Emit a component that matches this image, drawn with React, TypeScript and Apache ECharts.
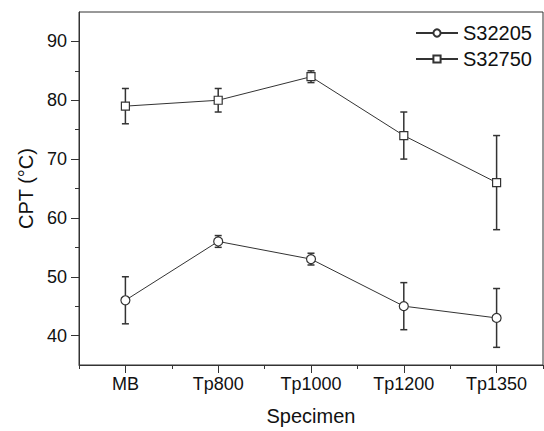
import React, { useEffect, useRef } from "react";
import * as echarts from "echarts";

const categories = ["MB", "Tp800", "Tp1000", "Tp1200", "Tp1350"];
const s32205 = [46, 56, 53, 45, 43];
const s32205Err = [4, 1, 1, 4, 5];
const s32750 = [79, 80, 84, 74, 66];
const s32750Err = [3, 2, 1, 4, 8];
const majorY = [40, 50, 60, 70, 80, 90];
const minorY = [45, 55, 65, 75, 85];

const INK = "#333";
const TEXT = "#111";
const FONT = "Liberation Sans, Arial, sans-serif";

function errData(vals: number[], errs: number[]) {
  return vals.map((v, i) => [i, v - errs[i], v + errs[i]]);
}

function renderErr(params: any, api: any) {
  const x = api.value(0);
  const lo = api.coord([x, api.value(1)]);
  const hi = api.coord([x, api.value(2)]);
  const w = 3.5;
  const style = { stroke: INK, lineWidth: 1.5 };
  return {
    type: "group",
    children: [
      { type: "line", shape: { x1: lo[0], y1: lo[1], x2: hi[0], y2: hi[1] }, style },
      { type: "line", shape: { x1: lo[0] - w, y1: lo[1], x2: lo[0] + w, y2: lo[1] }, style },
      { type: "line", shape: { x1: hi[0] - w, y1: hi[1], x2: hi[0] + w, y2: hi[1] }, style },
    ],
  };
}

export default function App() {
  const ref = useRef<HTMLDivElement>(null);
  useEffect(() => {
    if (!ref.current) return;
    const chart = echarts.init(ref.current, null, { renderer: "svg" });
    const axisLine = { show: true, lineStyle: { color: INK, width: 1 } };
    chart.setOption({
      animation: false,
      backgroundColor: "#fff",
      textStyle: { fontFamily: FONT, color: TEXT },
      grid: {
        left: 79,
        right: 1,
        top: 12,
        bottom: 64,
        show: true,
        borderColor: INK,
        borderWidth: 1,
      },
      legend: {
        orient: "vertical",
        left: 415,
        top: 23,
        padding: 0,
        itemWidth: 42,
        itemHeight: 9,
        itemGap: 6,
        textStyle: { fontSize: 20, color: TEXT, fontFamily: FONT },
        data: ["S32205", "S32750"],
      },
      xAxis: [
        {
          type: "category",
          data: categories,
          boundaryGap: true,
          axisLine,
          axisTick: { show: true, alignWithLabel: true, length: 8, lineStyle: { color: INK } },
          axisLabel: { fontSize: 18, margin: 10, color: TEXT, fontFamily: FONT },
          splitLine: { show: false },
          name: "Specimen",
          nameLocation: "middle",
          nameGap: 41,
          nameTextStyle: { fontSize: 20, color: TEXT, fontFamily: FONT },
        },
        {
          type: "category",
          data: categories,
          boundaryGap: true,
          position: "bottom",
          axisLine: { show: false },
          axisTick: { show: true, length: 4, lineStyle: { color: INK } },
          axisLabel: { show: false },
          splitLine: { show: false },
        },
      ],
      yAxis: [
        {
          type: "value",
          min: 35,
          max: 95,
          axisLine,
          axisTick: { show: true, length: 8, customValues: majorY, lineStyle: { color: INK } },
          axisLabel: { customValues: majorY, fontSize: 18, margin: 12, color: TEXT, fontFamily: FONT },
          splitLine: { show: false },
          name: "CPT (°C)",
          nameLocation: "middle",
          nameGap: 42,
          nameTextStyle: { fontSize: 20, color: TEXT, fontFamily: FONT },
        },
        {
          type: "value",
          min: 35,
          max: 95,
          position: "left",
          axisLine: { show: false },
          axisTick: { show: true, length: 4, customValues: minorY, lineStyle: { color: INK } },
          axisLabel: { show: false },
          splitLine: { show: false },
        },
      ],
      series: [
        {
          type: "custom",
          name: "err1",
          renderItem: renderErr,
          data: errData(s32205, s32205Err),
          encode: { x: 0, y: [1, 2] },
          z: 1,
        },
        {
          type: "custom",
          name: "err2",
          renderItem: renderErr,
          data: errData(s32750, s32750Err),
          encode: { x: 0, y: [1, 2] },
          z: 1,
        },
        {
          type: "line",
          name: "S32205",
          data: s32205,
          symbol: "circle",
          symbolSize: 9,
          showAllSymbol: true,
          lineStyle: { color: INK, width: 1 },
          itemStyle: { color: "#fff", borderColor: INK, borderWidth: 1.2 },
          z: 3,
        },
        {
          type: "line",
          name: "S32750",
          data: s32750,
          symbol: "rect",
          symbolSize: 8,
          showAllSymbol: true,
          lineStyle: { color: INK, width: 1 },
          itemStyle: { color: "#fff", borderColor: INK, borderWidth: 1.2 },
          z: 3,
        },
      ],
    });
    return () => chart.dispose();
  }, []);
  return (
    <div
      ref={ref}
      style={{ position: "fixed", left: 0, top: 0, width: 544, height: 431 }}
    />
  );
}
